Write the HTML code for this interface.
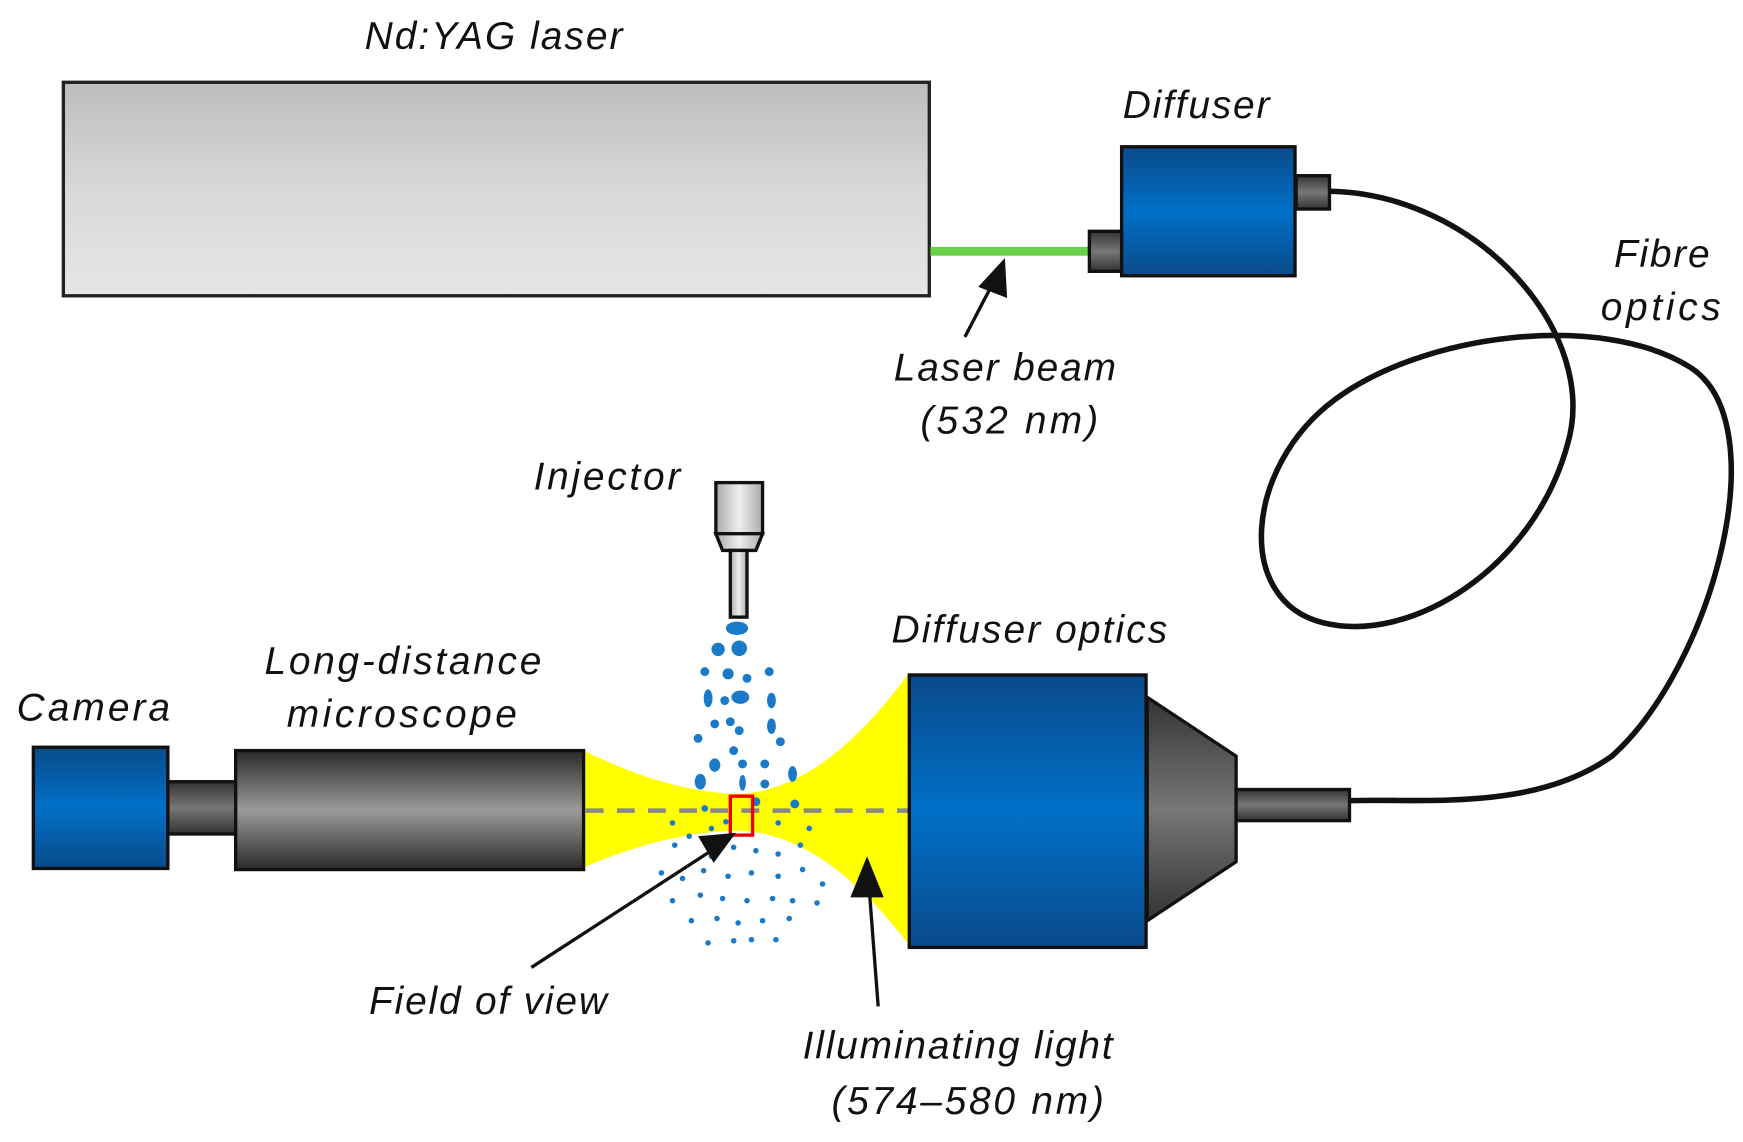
<!DOCTYPE html>
<html><head><style>html,body{margin:0;padding:0;background:#fff}svg{display:block}text{font-family:"Liberation Sans",sans-serif;font-style:italic;font-size:35px;fill:#111}</style></head><body>
<svg width="1743" height="1142" viewBox="0 0 1568 1027" preserveAspectRatio="none">
<defs>
<linearGradient id="gl" x1="0" y1="0" x2="0" y2="1"><stop offset="0" stop-color="#bdbdbd"/><stop offset="0.5" stop-color="#d8d8d8"/><stop offset="1" stop-color="#e6e6e6"/></linearGradient>
<linearGradient id="gm" x1="0" y1="0" x2="0" y2="1"><stop offset="0" stop-color="#2a2a2a"/><stop offset="0.5" stop-color="#9a9a9a"/><stop offset="1" stop-color="#2a2a2a"/></linearGradient>
<linearGradient id="gb" x1="0" y1="0" x2="0" y2="1"><stop offset="0" stop-color="#0a4a8a"/><stop offset="0.5" stop-color="#0070c8"/><stop offset="1" stop-color="#0a4a8a"/></linearGradient>
<linearGradient id="gc" x1="0" y1="0" x2="0" y2="1"><stop offset="0" stop-color="#333"/><stop offset="0.5" stop-color="#777"/><stop offset="1" stop-color="#333"/></linearGradient>
<linearGradient id="gi" x1="0" y1="0" x2="1" y2="0"><stop offset="0" stop-color="#aaa"/><stop offset="0.5" stop-color="#eee"/><stop offset="1" stop-color="#aaa"/></linearGradient>
</defs>
<rect x="57" y="74" width="779" height="192" fill="url(#gl)" stroke="#222" stroke-width="3"/>
<line x1="837" y1="226" x2="980" y2="226" stroke="#6ad24a" stroke-width="8"/>
<rect x="980" y="208" width="30" height="36" fill="url(#gc)" stroke="#111" stroke-width="3"/>
<rect x="1009" y="132" width="156" height="116" fill="url(#gb)" stroke="#111" stroke-width="3"/>
<rect x="1166" y="158" width="30" height="30" fill="url(#gc)" stroke="#111" stroke-width="3"/>
<path d="M1197,172 C1330,175 1440,300 1410,400 C1380,510 1270,580 1190,560 C1110,540 1120,420 1200,360 C1280,300 1440,280 1520,330 C1600,380 1540,600 1450,680 C1380,730 1280,718 1215,720" fill="none" stroke="#111" stroke-width="5"/>
<text x="328" y="44" textLength="232">Nd:YAG  laser</text>
<text x="1010" y="106" textLength="132">Diffuser</text>
<text x="1452" y="240" textLength="86">Fibre</text>
<text x="1440" y="288" textLength="108">optics</text>
<text x="804" y="342" textLength="200">Laser beam</text>
<text x="828" y="390" textLength="160">(532 nm)</text>
<line x1="868" y1="303" x2="893" y2="255" stroke="#111" stroke-width="3"/>
<polygon points="904,232 880,258 906,268" fill="#111"/>
<path d="M525,675 Q600,712 663,714 Q740,712 818,605 L818,850 Q740,748 663,747 Q600,748 525,780 Z" fill="#ffff00"/>
<g fill="#1a7ac8">
<ellipse cx="663" cy="565" rx="10" ry="6"/>
<circle cx="646" cy="584" r="6"/><circle cx="665" cy="583" r="7"/>
<circle cx="634" cy="604" r="4"/><circle cx="655" cy="606" r="5"/><circle cx="672" cy="610" r="4"/><circle cx="692" cy="604" r="4"/>
<ellipse cx="637" cy="628" rx="4" ry="8"/><circle cx="652" cy="630" r="4"/><ellipse cx="666" cy="627" rx="8" ry="6"/><ellipse cx="694" cy="630" rx="4" ry="7"/>
<circle cx="643" cy="651" r="4"/><circle cx="657" cy="649" r="4"/><ellipse cx="694" cy="653" rx="4" ry="7"/><circle cx="665" cy="657" r="4"/>
<circle cx="628" cy="664" r="4"/><circle cx="702" cy="667" r="4"/><circle cx="660" cy="675" r="4"/>
<ellipse cx="643" cy="688" rx="5" ry="6"/><circle cx="668" cy="687" r="4"/><circle cx="688" cy="687" r="4"/>
<ellipse cx="630" cy="703" rx="5" ry="7"/><circle cx="688" cy="705" r="4"/><ellipse cx="668" cy="704" rx="3" ry="7"/><ellipse cx="713" cy="696" rx="4" ry="7"/>
<circle cx="680" cy="721" r="4"/><circle cx="715" cy="723" r="4"/><circle cx="634" cy="727" r="3"/>
</g>
<g fill="#1a7ac8">
<circle cx="607" cy="760" r="2.5"/><circle cx="620" cy="752" r="2.5"/><circle cx="640" cy="770" r="2.5"/><circle cx="660" cy="762" r="2.5"/><circle cx="680" cy="765" r="2.5"/><circle cx="700" cy="768" r="2.5"/><circle cx="720" cy="760" r="2.5"/><circle cx="728" cy="745" r="2.5"/>
<circle cx="595" cy="785" r="2.5"/><circle cx="614" cy="790" r="2.5"/><circle cx="633" cy="783" r="2.5"/><circle cx="655" cy="788" r="2.5"/><circle cx="676" cy="785" r="2.5"/><circle cx="700" cy="788" r="2.5"/><circle cx="722" cy="782" r="2.5"/><circle cx="740" cy="795" r="2.5"/>
<circle cx="605" cy="810" r="2.5"/><circle cx="630" cy="805" r="2.5"/><circle cx="650" cy="808" r="2.5"/><circle cx="672" cy="810" r="2.5"/><circle cx="695" cy="808" r="2.5"/><circle cx="713" cy="810" r="2.5"/><circle cx="735" cy="812" r="2.5"/>
<circle cx="622" cy="828" r="2.5"/><circle cx="645" cy="826" r="2.5"/><circle cx="664" cy="830" r="2.5"/><circle cx="686" cy="828" r="2.5"/><circle cx="710" cy="826" r="2.5"/>
<circle cx="637" cy="848" r="2.5"/><circle cx="660" cy="846" r="2.5"/><circle cx="676" cy="845" r="2.5"/><circle cx="698" cy="845" r="2.5"/>
<circle cx="653" cy="739" r="2.5"/><circle cx="640" cy="745" r="2.5"/><circle cx="605" cy="740" r="2.5"/><circle cx="700" cy="740" r="2.5"/>
</g>
<rect x="644" y="434" width="42" height="46" fill="url(#gi)" stroke="#111" stroke-width="3"/>
<polygon points="644,480 686,480 680,495 650,495" fill="url(#gi)" stroke="#111" stroke-width="3"/>
<rect x="657" y="495" width="15" height="60" fill="url(#gi)" stroke="#111" stroke-width="3"/>
<line x1="527" y1="729" x2="818" y2="729" stroke="#888" stroke-width="4" stroke-dasharray="16,12"/>
<rect x="657" y="716" width="20" height="35" fill="none" stroke="#e00" stroke-width="3"/>
<rect x="30" y="672" width="121" height="109" fill="url(#gb)" stroke="#111" stroke-width="3"/>
<rect x="151" y="703" width="62" height="47" fill="url(#gc)" stroke="#111" stroke-width="3"/>
<rect x="212" y="675" width="313" height="107" fill="url(#gm)" stroke="#111" stroke-width="3"/>
<rect x="818" y="607" width="213" height="245" fill="url(#gb)" stroke="#111" stroke-width="3"/>
<polygon points="1032,627 1112,680 1112,775 1032,828" fill="url(#gc)" stroke="#111" stroke-width="3"/>
<rect x="1112" y="710" width="102" height="28" fill="url(#gc)" stroke="#111" stroke-width="3"/>
<text x="480" y="440" textLength="132">Injector</text>
<text x="802" y="578" textLength="248">Diffuser optics</text>
<text x="15" y="648" textLength="138">Camera</text>
<text x="238" y="606" textLength="249">Long-distance</text>
<text x="258" y="654" textLength="207">microscope</text>
<text x="332" y="912" textLength="214">Field of view</text>
<text x="722" y="952" textLength="279">Illuminating light</text>
<text x="748" y="1002" textLength="245">(574–580 nm)</text>
<line x1="478" y1="870" x2="640" y2="765" stroke="#111" stroke-width="3"/>
<polygon points="662,749 628,752 642,776" fill="#111"/>
<line x1="790" y1="905" x2="782" y2="800" stroke="#111" stroke-width="3"/>
<polygon points="780,770 765,807 795,807" fill="#111"/>
</svg>
</body></html>
